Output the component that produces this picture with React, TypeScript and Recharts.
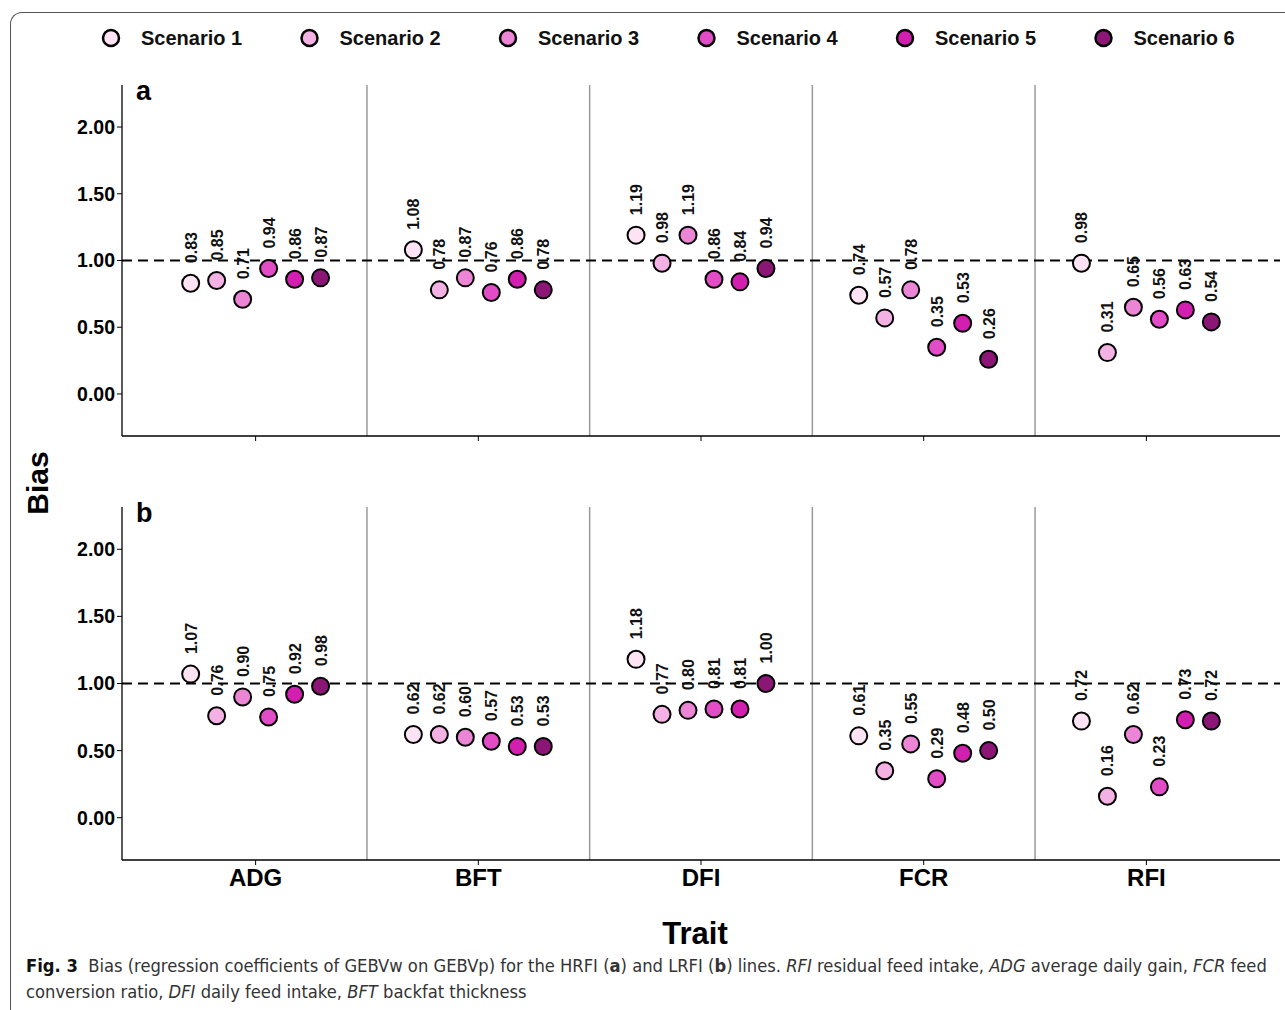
import React from 'react'
import {
  ScatterChart, Scatter, XAxis, YAxis, ReferenceLine, Legend,
} from 'recharts'

const traits = ['ADG', 'BFT', 'DFI', 'FCR', 'RFI']
const scenarios = ['Scenario 1', 'Scenario 2', 'Scenario 3', 'Scenario 4', 'Scenario 5', 'Scenario 6']
const colors = ['#fde3f3', '#f4b1e3', '#ec85d6', '#e24dc7', '#d21fb0', '#8c1676']
const yTicks = [0, 0.5, 1, 1.5, 2]

// HRFI line (a), one array per trait, values for scenario 1..6
const hrfiADG = [0.83, 0.85, 0.71, 0.94, 0.86, 0.87]
const hrfiBFT = [1.08, 0.78, 0.87, 0.76, 0.86, 0.78]
const hrfiDFI = [1.19, 0.98, 1.19, 0.86, 0.84, 0.94]
const hrfiFCR = [0.74, 0.57, 0.78, 0.35, 0.53, 0.26]
const hrfiRFI = [0.98, 0.31, 0.65, 0.56, 0.63, 0.54]

// LRFI line (b)
const lrfiADG = [1.07, 0.76, 0.90, 0.75, 0.92, 0.98]
const lrfiBFT = [0.62, 0.62, 0.60, 0.57, 0.53, 0.53]
const lrfiDFI = [1.18, 0.77, 0.80, 0.81, 0.81, 1.00]
const lrfiFCR = [0.61, 0.35, 0.55, 0.29, 0.48, 0.50]
const lrfiRFI = [0.72, 0.16, 0.62, 0.23, 0.73, 0.72]

const hrfi = [hrfiADG, hrfiBFT, hrfiDFI, hrfiFCR, hrfiRFI]
const lrfi = [lrfiADG, lrfiBFT, lrfiDFI, lrfiFCR, lrfiRFI]

const DODGE = 0.7 / 6

// build one point list per scenario, dodged around the trait position
function seriesFor(panel: number[][], s: number) {
  return panel.map((vals, t) => ({
    x: t + 1 + (s - 2.5) * DODGE,
    y: vals[s],
  }))
}

const FONT = 'Liberation Sans, Arial, sans-serif'

function Dot(props: any) {
  const { cx, cy, fill, payload } = props
  return (
    <g>
      <circle cx={cx} cy={cy} r={8.5} fill={fill} stroke="#000" strokeWidth={2} />
      <text
        x={cx + 6}
        y={cy - 20}
        transform={`rotate(-90 ${cx + 6} ${cy - 20})`}
        textAnchor="start"
        fontFamily={FONT}
        fontWeight="bold"
        fontSize={16}
        fill="#111"
      >
        {payload.y.toFixed(2)}
      </text>
    </g>
  )
}

function LegendRow() {
  return (
    <svg width={1285} height={40}>
      {scenarios.map((name, i) => {
        const cx = 111 + i * 198.5
        return (
          <g key={name}>
            <circle cx={cx} cy={20} r={8} fill={colors[i]} stroke="#000" strokeWidth={2.5} />
            <text x={cx + 30} y={27} fontFamily={FONT} fontWeight="bold" fontSize={20} fill="#111">
              {name}
            </text>
          </g>
        )
      })}
    </svg>
  )
}

function Panel({ panel, top, height, marginTop, xHeight, showLabels, withLegend }: {
  panel: number[][]
  top: number
  height: number
  marginTop: number
  xHeight: number
  showLabels: boolean
  withLegend?: boolean
}) {
  return (
    <div style={{ position: 'absolute', left: 0, top }}>
      <ScatterChart width={1285} height={height} margin={{ top: marginTop, right: 5, bottom: 0, left: 42 }}>
        <XAxis
          type="number"
          dataKey="x"
          domain={[0.4, 5.6]}
          ticks={[1, 2, 3, 4, 5]}
          tickFormatter={(v: number) => (showLabels ? traits[v - 1] : '')}
          height={xHeight}
          axisLine={{ stroke: '#000', strokeWidth: 1.3 }}
          tickLine={{ stroke: '#000' }}
          tickSize={5}
          tickMargin={4}
          tick={{ fill: '#000', fontSize: 24, fontWeight: 'bold', fontFamily: FONT }}
          allowDataOverflow
        />
        <YAxis
          type="number"
          dataKey="y"
          domain={[-0.315, 2.315]}
          ticks={yTicks}
          tickFormatter={(v: number) => v.toFixed(2)}
          width={80}
          axisLine={{ stroke: '#000', strokeWidth: 1.3 }}
          tickLine={{ stroke: '#000' }}
          tickSize={5}
          tickMargin={2}
          tick={{ fill: '#000', fontSize: 19.5, fontWeight: 'bold', fontFamily: FONT }}
          allowDataOverflow
        />
        {[1.5, 2.5, 3.5, 4.5].map((x) => (
          <ReferenceLine key={x} x={x} stroke="#9a9a9a" strokeWidth={1.5} />
        ))}
        {scenarios.map((name, s) => (
          <Scatter
            key={name}
            name={name}
            data={seriesFor(panel, s)}
            fill={colors[s]}
            shape={Dot}
            isAnimationActive={false}
          />
        ))}
        <ReferenceLine y={1} stroke="#000" strokeWidth={2} strokeDasharray="10 6" />
        {withLegend && (
          <Legend
            layout="horizontal"
            verticalAlign="middle"
            align="center"
            wrapperStyle={{ top: 6, left: 0, width: 1285, height: 40 }}
            content={() => <LegendRow />}
          />
        )}
      </ScatterChart>
    </div>
  )
}

export default function App() {
  return (
    <div style={{ position: 'absolute', left: 0, top: 0, width: 1285, height: 1010, background: '#fff', overflow: 'hidden', fontFamily: FONT }}>
      <div style={{
        position: 'absolute', left: 10, top: 12, width: 1300, height: 1010,
        borderLeft: '1.3px solid #555', borderTop: '1.3px solid #555', borderTopLeftRadius: 12,
      }} />
      <Panel panel={hrfi} top={12} height={434} marginTop={73} xHeight={10} showLabels={false} withLegend />
      <Panel panel={lrfi} top={490} height={420} marginTop={17} xHeight={50} showLabels />
      <div style={{ position: 'absolute', left: 136, top: 76, fontSize: 27, fontWeight: 'bold', color: '#000' }}>a</div>
      <div style={{ position: 'absolute', left: 136, top: 498, fontSize: 27, fontWeight: 'bold', color: '#000' }}>b</div>
      <div style={{
        position: 'absolute', left: 38, top: 483, transform: 'translate(-50%, -50%) rotate(-90deg)',
        fontSize: 30, fontWeight: 'bold', color: '#000', whiteSpace: 'nowrap',
      }}>Bias</div>
      <div style={{
        position: 'absolute', left: 695, top: 934, transform: 'translate(-50%, -50%)',
        fontSize: 31, fontWeight: 'bold', color: '#000', whiteSpace: 'nowrap',
      }}>Trait</div>
      <div style={{
        position: 'absolute', left: 26, top: 953, fontFamily: 'Liberation Sans Narrow, DejaVu Sans Condensed, sans-serif',
        fontSize: 18.2, lineHeight: '26px', color: '#333', whiteSpace: 'nowrap',
      }}>
        <b style={{ color: '#111' }}>Fig. 3</b>&nbsp;&nbsp;Bias (regression coefficients of GEBVw on GEBVp) for the HRFI (<b>a</b>) and LRFI (<b>b</b>) lines. <i>RFI</i> residual feed intake, <i>ADG</i> average daily gain, <i>FCR</i> feed
        <br />
        conversion ratio, <i>DFI</i> daily feed intake, <i>BFT</i> backfat thickness
      </div>
    </div>
  )
}
